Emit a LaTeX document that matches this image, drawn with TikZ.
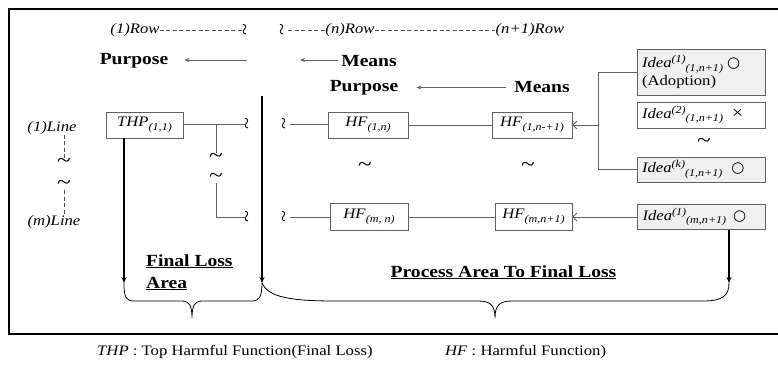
\documentclass[tikz,border=0pt]{standalone}
\usepackage{fontspec}
\setmainfont{Liberation Serif}[FakeStretch=1.15]
\newfontfamily\symfont{DejaVu Sans}
\usetikzlibrary{arrows.meta,calc}

% small raised / lowered indices
\newcommand\lowidx[1]{\raisebox{-3.5pt}{\fontsize{10.5}{10}\selectfont\itshape #1}}
\newcommand\upidx[1]{\raisebox{5pt}{\fontsize{10.5}{10}\selectfont\itshape #1}}
\newcommand\okmark{{\symfont\fontsize{15}{15}\selectfont ○}}

\begin{document}
\begin{tikzpicture}[x=1pt,y=-1pt,
  reg/.style={font=\fontsize{14.5}{16}\selectfont, inner sep=0pt},
  lbl/.style={font=\fontsize{14.5}{16}\selectfont\itshape, inner sep=0pt},
  big/.style={font=\fontsize{17}{20}\selectfont\bfseries, inner sep=0pt},
  box/.style={draw=black!62, line width=0.8pt, minimum height=26pt, inner sep=0pt,
    font=\fontsize{14.5}{16}\selectfont},
  ideabox/.style={box, minimum width=128pt, text width=118pt, align=left},
  shaded/.style={fill=black!6},
  conn/.style={draw=black!62, line width=0.8pt},
  dashln/.style={draw=black!70, line width=0.8pt, dash pattern=on 4pt off 2.5pt},
  arr/.style={draw=black!62, line width=0.8pt, -{Stealth[length=5pt,width=4pt]}},
  openarr/.style={draw=black!62, line width=0.8pt, -{Straight Barb[length=4pt,width=8pt]}},
  heavy/.style={draw=black, line width=1.6pt, -{Stealth[length=6pt,width=5pt]}},
  brace/.style={draw=black, line width=0.8pt},
  tl/.style={font=\fontsize{22}{22}\selectfont, inner sep=0.5pt},
  brk/.style={font=\fontsize{19}{19}\selectfont, inner sep=0.3pt, rotate=90},
]
\useasboundingbox (0,0) rectangle (778,369);

% frame (open on the right)
\draw[line width=2pt] (781,9) -- (9,9) -- (9,334) -- (781,334);

% ---- row headings
\node[lbl] (r1) at (135,30) {(1)Row};
\node[brk] (s1) at (247,30) {\textasciitilde};
\node[brk] (s2) at (284,30) {\textasciitilde};
\node[lbl] (rn) at (350,30) {(n)Row};
\node[lbl] (rn1) at (530,30) {(n+1)Row};
\draw[dashln] (r1) -- (s1);
\draw[dashln] (s2) -- (rn);
\draw[dashln] (rn) -- (rn1);

% ---- purpose / means
\node[big] (p1) at (134,61) {Purpose};
\node[big] (m1) at (369,61) {Means};
\coordinate (a1) at (247,60);
\coordinate (a2) at (300,60);
\draw[arr, shorten >=16pt] (a1) -- (p1.east |- a1);
\draw[arr, shorten <=3pt] (m1.west |- a2) -- (a2);
\node[big] (p2) at (364,87.5) {Purpose};
\node[big] (m2) at (542,87.5) {Means};
\draw[arr, shorten <=8pt, shorten >=18pt] (m2) -- (p2);

% ---- line headings
\node[lbl] (l1) at (52,128) {(1)Line};
\node[lbl] (lm) at (54,222) {(m)Line};
\node[tl] (lt1) at (64,163) {\textasciitilde};
\node[tl] (lt2) at (64,185) {\textasciitilde};
\draw[dashln] ([xshift=12pt]l1.south) -- (lt1);
\draw[dashln] (lt2) -- ([xshift=10pt]lm.north);

% ---- boxes
\node[box, minimum width=77pt] (thp) at (144.5,125) {\textit{THP}\lowidx{(1,1)}};
\node[box, minimum width=80pt] (hf1n) at (368,125) {\textit{HF}\lowidx{(1,n)}};
\node[box, minimum width=80pt] (hf1n1) at (532,125) {\textit{HF}\lowidx{(1,n-+1)}};
\node[box, minimum width=78pt, minimum height=27pt] (hfmn) at (369,217) {\textit{HF}\lowidx{(m, n)}};
\node[box, minimum width=77pt, minimum height=27pt] (hfmn1) at (533.5,217) {\textit{HF}\lowidx{(m,n+1)}};

\node[ideabox, shaded, minimum height=46pt, font=\fontsize{14.5}{18}\selectfont] (id1) at (701,72)
  {\textit{Idea}\upidx{(1)}\lowidx{(1,n+1)}\hspace{4pt}\okmark\\(Adoption)};
\node[ideabox] (id2) at (701,115)
  {\textit{Idea}\upidx{(2)}\lowidx{(1,n+1)}\hspace{9pt}{\fontsize{17}{17}\selectfont ×}};
\node[ideabox, shaded, minimum height=25pt] (idk) at (701,169.5)
  {\textit{Idea}\upidx{(k)}\lowidx{(1,n+1)}\hspace{9pt}\okmark};
\node[ideabox, shaded, minimum height=25pt] (idm) at (701.5,217)
  {\textit{Idea}\upidx{(1)}\lowidx{(m,n+1)}\hspace{7pt}\okmark};

% ---- gaps in the chains
\node[tl] (t1) at (216,158) {\textasciitilde};
\node[tl] (t2) at (216,178) {\textasciitilde};
\node[tl] (t3) at (365,167) {\textasciitilde};
\node[tl] (t4) at (528,167) {\textasciitilde};
\node[tl] (t5) at (704,143) {\textasciitilde};

\node[brk] (b1) at (249,124) {\textasciitilde};
\node[brk] (b2) at (249,217) {\textasciitilde};
\node[brk] (b3) at (286,124) {\textasciitilde};
\node[brk] (b4) at (286,217) {\textasciitilde};

% ---- connectors
\coordinate (j1) at (216,124);
\draw[conn] (thp.east |- b1) -- (b1);
\draw[conn] (j1) -- (t1);
\draw[conn] (t2) -- (t2 |- b2) -- (b2);
\draw[conn] (b3) -- (hf1n.west |- b3);
\draw[conn] (b4) -- (hfmn.west |- b4);
\draw[conn] (hf1n) -- (hf1n1);
\draw[conn] (hfmn) -- (hfmn1);

\coordinate (jv) at (598,125);
\draw[conn] (id1.west) -| (jv) |- (idk.west);
\draw[openarr] (jv) -- (hf1n1.east);
\draw[openarr] (idm.west) -- (hfmn1.east);

% ---- heavy arrows into the braces
\coordinate (v0) at (262,96);
\coordinate (v1) at (262,283);
\coordinate (e1) at (124,283);
\coordinate (e3) at (729,283);
\draw[heavy] (v0) -- (v1);
\draw[heavy] ([xshift=-20.5pt]thp.south) -- (e1);
\draw[heavy] (idm.south -| e3) -- (e3);

% ---- braces
\draw[brace] (e1) .. controls (124,297) and (126,301) .. (134,301) -- (182,301)
  .. controls (189,301) and (192,305) .. (192,318)
  .. controls (192,305) and (195,301) .. (202,301) -- (252,301)
  .. controls (259,301) and (262,297) .. (v1);
\draw[brace] (v1) .. controls (268,297) and (290,301) .. (335,301) -- (478,301)
  .. controls (490,301) and (495,305) .. (495,318)
  .. controls (495,305) and (500,301) .. (512,301) -- (703,301)
  .. controls (722,301) and (729,296) .. (e3);

% ---- area captions
\node[big, anchor=base west] (fl1) at (146,266) {\underline{Final Loss}};
\node[big, anchor=base west] (fl2) at (146,288) {\underline{Area}};
\node[big, anchor=base] (pa) at (503.5,277) {\underline{Process Area To Final Loss}};

% ---- legend
\node[reg, anchor=base west] (lg1) at (97,355) {\textit{THP} : Top Harmful Function(Final Loss)};
\node[reg, anchor=base west] (lg2) at (445,355) {\textit{HF} : Harmful Function)};
\end{tikzpicture}
\end{document}
